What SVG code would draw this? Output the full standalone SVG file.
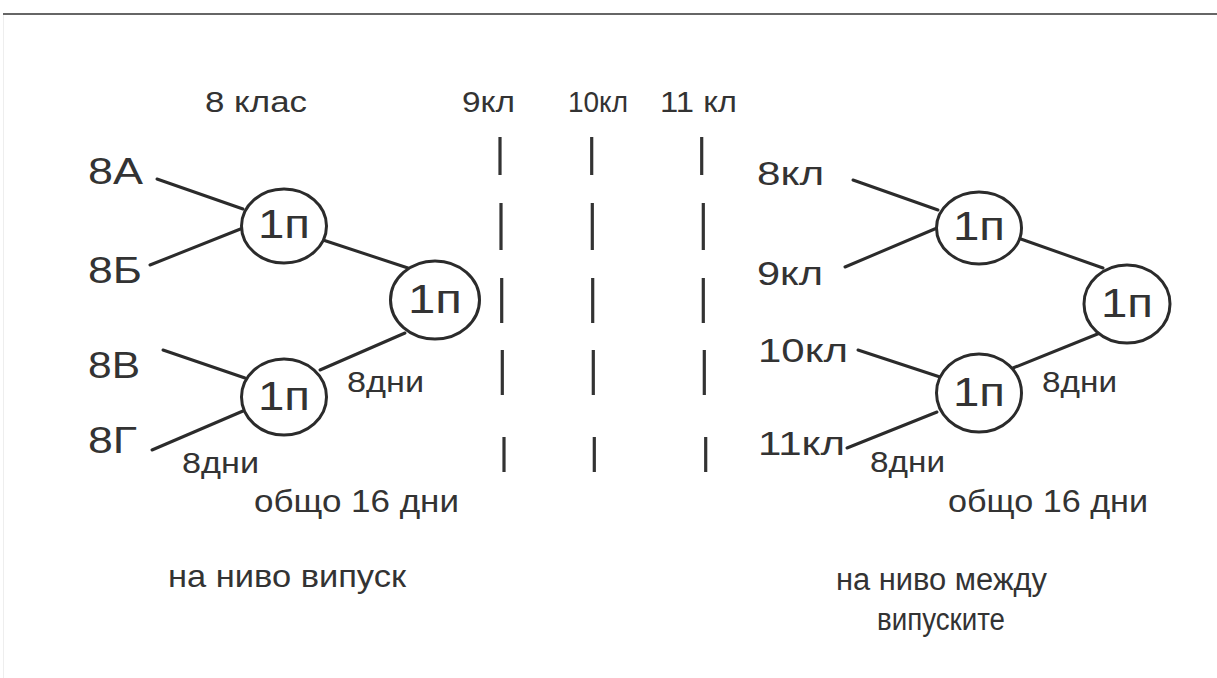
<svg xmlns="http://www.w3.org/2000/svg" width="1217" height="678" viewBox="0 0 1217 678">
<style>
.t{font-family:"Liberation Sans",Arial,sans-serif;fill:#333}
.n{fill:#fff;stroke:#2b2b2b;stroke-width:3}
.c line{stroke:#2b2b2b;stroke-width:3;stroke-linecap:round}
.d line{stroke:#333;stroke-width:3.2}
</style>
<rect width="1217" height="678" fill="#fff"/>
<line x1="3" y1="14" x2="1217" y2="14" stroke="#333" stroke-width="1.5"/>
<line x1="3.5" y1="15" x2="3.5" y2="678" stroke="#eee" stroke-width="1"/>
<g id="connectors" class="c">
<line x1="157" y1="179" x2="243" y2="209"/>
<line x1="150" y1="265" x2="243" y2="228"/>
<line x1="323" y1="240" x2="408" y2="268"/>
<line x1="405" y1="333" x2="320" y2="370"/>
<line x1="163" y1="350" x2="245" y2="378"/>
<line x1="152" y1="450" x2="243" y2="411"/>
<line x1="853" y1="180" x2="938" y2="210"/>
<line x1="845" y1="267" x2="937" y2="228"/>
<line x1="1018" y1="238" x2="1103" y2="268"/>
<line x1="1100" y1="333" x2="1013" y2="368"/>
<line x1="858" y1="350" x2="940" y2="377"/>
<line x1="847" y1="448" x2="937" y2="412"/>
</g>
<g id="dashes" class="d">
<line x1="500" y1="137" x2="500" y2="175"/>
<line x1="501" y1="203" x2="501" y2="250"/>
<line x1="501.7" y1="278" x2="501.7" y2="323"/>
<line x1="502.3" y1="350" x2="502.3" y2="395"/>
<line x1="504" y1="437" x2="504" y2="472"/>
<line x1="591.7" y1="137" x2="591.7" y2="175"/>
<line x1="592.3" y1="203" x2="592.3" y2="250"/>
<line x1="592.7" y1="278" x2="592.7" y2="323"/>
<line x1="593.3" y1="350" x2="593.3" y2="395"/>
<line x1="594.3" y1="437" x2="594.3" y2="472"/>
<line x1="701.7" y1="137" x2="701.7" y2="175"/>
<line x1="703.3" y1="203" x2="703.3" y2="250"/>
<line x1="703.3" y1="278" x2="703.3" y2="323"/>
<line x1="704.3" y1="350" x2="704.3" y2="395"/>
<line x1="705.7" y1="437" x2="705.7" y2="472"/>
</g>
<g id="n1"><ellipse class="n" cx="284" cy="226" rx="42.5" ry="37"/><text class="t" x="258" y="238" font-size="40" textLength="52" lengthAdjust="spacingAndGlyphs">1п</text></g>
<g id="n2"><ellipse class="n" cx="435" cy="300" rx="44.5" ry="39"/><text class="t" x="408" y="313" font-size="40" textLength="54" lengthAdjust="spacingAndGlyphs">1п</text></g>
<g id="n3"><ellipse class="n" cx="284" cy="397" rx="42.5" ry="38"/><text class="t" x="258" y="410" font-size="40" textLength="52" lengthAdjust="spacingAndGlyphs">1п</text></g>
<g id="n4"><ellipse class="n" cx="979" cy="228" rx="42.5" ry="36"/><text class="t" x="953" y="240" font-size="40" textLength="52" lengthAdjust="spacingAndGlyphs">1п</text></g>
<g id="n5"><ellipse class="n" cx="1127" cy="304" rx="43" ry="39"/><text class="t" x="1101" y="317" font-size="40" textLength="52" lengthAdjust="spacingAndGlyphs">1п</text></g>
<g id="n6"><ellipse class="n" cx="979" cy="393" rx="42.5" ry="39"/><text class="t" x="953" y="406" font-size="40" textLength="52" lengthAdjust="spacingAndGlyphs">1п</text></g>
<g id="labels">
<text class="t" x="205" y="112" font-size="29" textLength="102" lengthAdjust="spacingAndGlyphs">8 клас</text>
<text class="t" x="462" y="112" font-size="30" textLength="53" lengthAdjust="spacingAndGlyphs">9кл</text>
<text class="t" x="568" y="112" font-size="30" textLength="60" lengthAdjust="spacingAndGlyphs">10кл</text>
<text class="t" x="660" y="112" font-size="30" textLength="77" lengthAdjust="spacingAndGlyphs">11 кл</text>
<text class="t" x="88" y="184" font-size="36" textLength="55" lengthAdjust="spacingAndGlyphs">8А</text>
<text class="t" x="88" y="283" font-size="36" textLength="54" lengthAdjust="spacingAndGlyphs">8Б</text>
<text class="t" x="88" y="378" font-size="36" textLength="52" lengthAdjust="spacingAndGlyphs">8В</text>
<text class="t" x="88" y="453" font-size="36" textLength="49" lengthAdjust="spacingAndGlyphs">8Г</text>
<text class="t" x="347" y="392" font-size="29" textLength="77" lengthAdjust="spacingAndGlyphs">8дни</text>
<text class="t" x="182" y="473" font-size="29" textLength="77" lengthAdjust="spacingAndGlyphs">8дни</text>
<text class="t" x="254" y="512" font-size="31" textLength="205" lengthAdjust="spacingAndGlyphs">общо 16 дни</text>
<text class="t" x="168" y="587" font-size="32" textLength="238" lengthAdjust="spacingAndGlyphs">на ниво випуск</text>
<text class="t" x="757" y="185" font-size="34" textLength="67" lengthAdjust="spacingAndGlyphs">8кл</text>
<text class="t" x="757" y="285" font-size="34" textLength="66" lengthAdjust="spacingAndGlyphs">9кл</text>
<text class="t" x="758" y="362" font-size="34" textLength="90" lengthAdjust="spacingAndGlyphs">10кл</text>
<text class="t" x="758" y="455" font-size="34" textLength="87" lengthAdjust="spacingAndGlyphs">11кл</text>
<text class="t" x="1042" y="392" font-size="29" textLength="75" lengthAdjust="spacingAndGlyphs">8дни</text>
<text class="t" x="870" y="472" font-size="29" textLength="75" lengthAdjust="spacingAndGlyphs">8дни</text>
<text class="t" x="948" y="512" font-size="31" textLength="200" lengthAdjust="spacingAndGlyphs">общо 16 дни</text>
<text class="t" x="836" y="590" font-size="31" textLength="211" lengthAdjust="spacingAndGlyphs">на ниво между</text>
<text class="t" x="877" y="630" font-size="31" textLength="128" lengthAdjust="spacingAndGlyphs">випуските</text>
</g>
</svg>
